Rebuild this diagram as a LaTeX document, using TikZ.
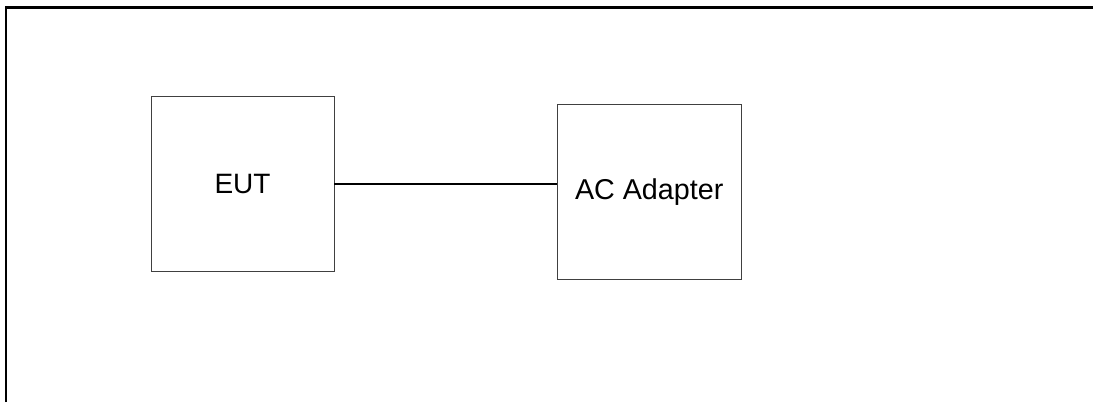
\documentclass[tikz,border=0pt]{standalone}
\usepackage{fontspec}
\setmainfont{Liberation Sans}
\begin{document}
\begin{tikzpicture}[x=1pt,y=-1pt,
  blockbox/.style={draw=black!75, line width=0.9pt, minimum width=183pt, minimum height=175pt, inner sep=0pt, outer sep=0pt},
  frameline/.style={draw=black, line width=2.6pt},
  wire/.style={draw=black, line width=1.6pt}]
\useasboundingbox (0,0) rectangle (1093,402);
\draw[frameline] (6.1,402) -- (6.1,7.6) -- (1093,7.6);
\node[blockbox] (eut) at (242.5,184.2) {\fontsize{28}{32}\selectfont EUT};
\node[blockbox, minimum width=184pt] (ac) at (649.2,191.8) {\fontsize{28.7}{33}\selectfont AC Adapter};
\draw[wire] (eut.east) -- (eut.east -| ac.west);
\end{tikzpicture}
\end{document}
